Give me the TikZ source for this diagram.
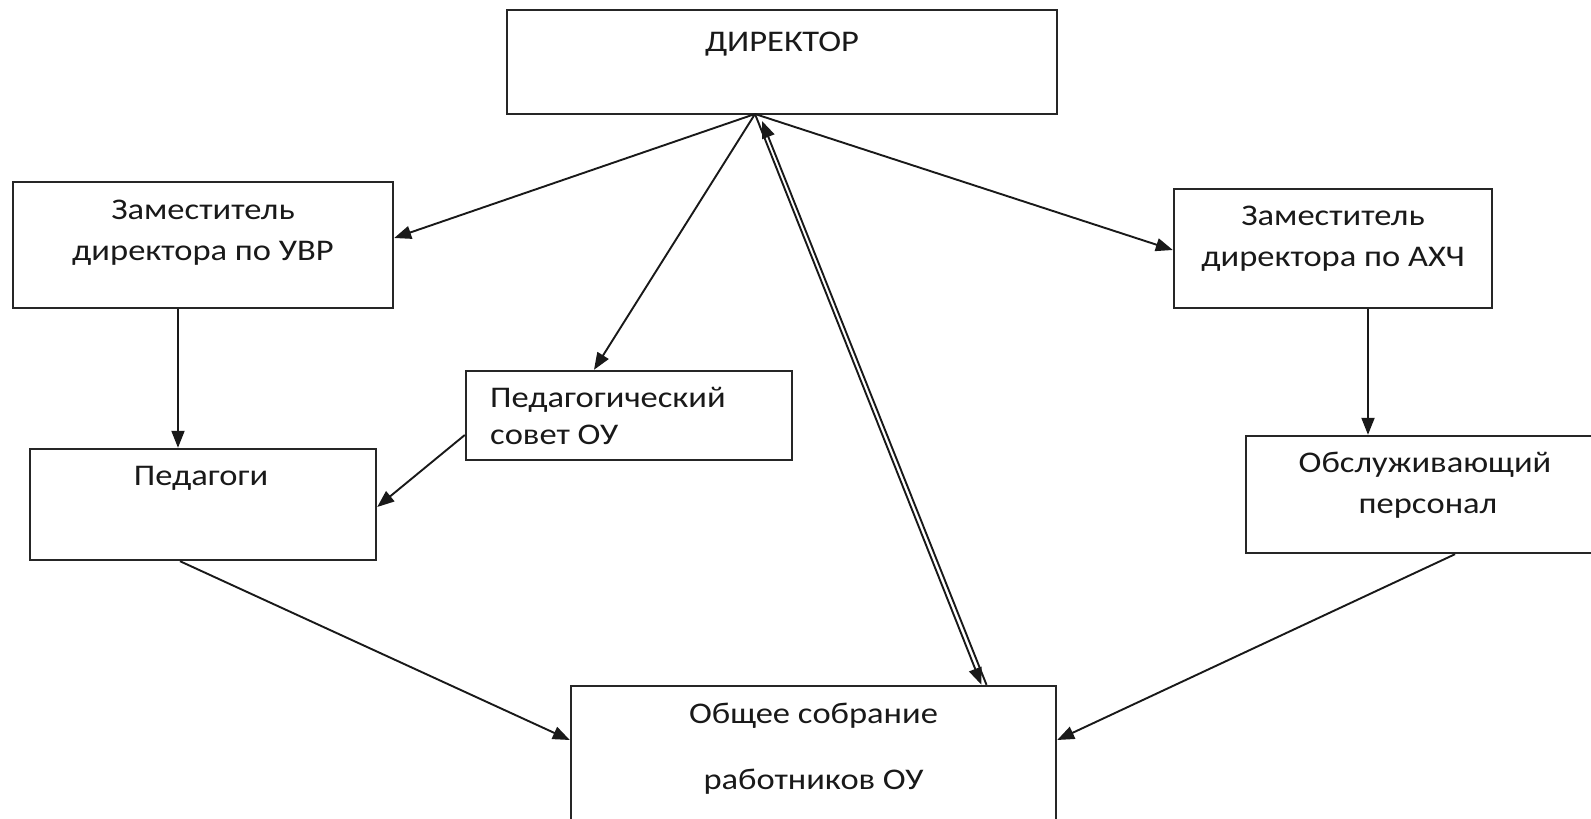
\documentclass[tikz,border=0pt]{standalone}
\usepackage{fontspec}
\setmainfont{Carlito}[FakeStretch=1.15]
\usetikzlibrary{arrows.meta}
\begin{document}
\begin{tikzpicture}[x=1pt,y=-1pt,
  box/.style={draw=black!85,line width=2.4pt,inner sep=0pt,rectangle},
  lbl/.style={anchor=base,inner sep=0pt,font=\fontsize{30}{32}\selectfont,text=black!90},
  lbll/.style={anchor=base west,inner sep=0pt,font=\fontsize{30}{32}\selectfont,text=black!90},
  arr/.style={draw=black!90,line width=1.9pt,-{Triangle[length=17pt,width=13pt]}}]
\useasboundingbox (0,0) rectangle (1591,819);
\clip (0,0) rectangle (1591,819);
\fill[white] (0,0) rectangle (1591,819);
% boxes
\node[box,minimum width=550pt,minimum height=104pt] (dir) at (782,62) {};
\node[box,minimum width=380pt,minimum height=126pt] (zamuvr) at (203,245) {};
\node[box,minimum width=318pt,minimum height=119pt] (zamaxc) at (1333,248.5) {};
\node[box,minimum width=354pt,minimum height=117pt] (obsl) at (1423,494.5) {};
\node[box,minimum width=326pt,minimum height=89pt] (pedsov) at (629,415.5) {};
\node[box,minimum width=346pt,minimum height=111pt] (pedag) at (203,504.5) {};
\node[box,minimum width=485pt,minimum height=164pt] (sobr) at (813.5,768) {};
% texts
\node[lbl] (tdir) at (782,51) {ДИРЕКТОР};
\node[lbl] (tuvr1) at (203,219) {Заместитель};
\node[lbl] (tuvr2) at (203,260) {директора по УВР};
\node[lbl] (taxc1) at (1333,225) {Заместитель};
\node[lbl] (taxc2) at (1333,266) {директора по АХЧ};
\node[lbl] (tobsl1) at (1425,472) {Обслуживающий};
\node[lbl] (tobsl2) at (1428,513) {персонал};
\node[lbll] (tps1) at (490,407) {Педагогический};
\node[lbll] (tps2) at (490,444) {совет ОУ};
\node[lbl] (tped) at (201,485) {Педагоги};
\node[lbl] (tsob1) at (813.5,723) {Общее собрание};
\node[lbl] (tsob2) at (813.5,789) {работников ОУ};
% connectors
\coordinate (c) at (755,114);
\coordinate (c2) at (762,121);
\draw[arr] (c) -- ([yshift=7pt]zamuvr.east);
\draw[arr] (c) -- ([xshift=-35pt]pedsov.north);
\draw[arr] (c) -- ([yshift=-1.5pt]zamaxc.west);
\draw[arr] (c) -- ([xshift=168pt]sobr.north);
\draw[arr] ([xshift=173pt]sobr.north) -- (c2);
\draw[arr] ([xshift=-25pt]zamuvr.south) -- ([xshift=-25pt]pedag.north);
\draw[arr] ([xshift=35pt]zamaxc.south) -- ([xshift=-55pt]obsl.north);
\draw[arr] ([yshift=-19.5pt]pedsov.west) -- ([yshift=-2.5pt]pedag.east);
\draw[arr] ([xshift=-23pt]pedag.south) -- ([yshift=28pt]sobr.west);
\draw[arr] ([xshift=32pt]obsl.south) -- ([yshift=28pt]sobr.east);
\end{tikzpicture}
\end{document}
